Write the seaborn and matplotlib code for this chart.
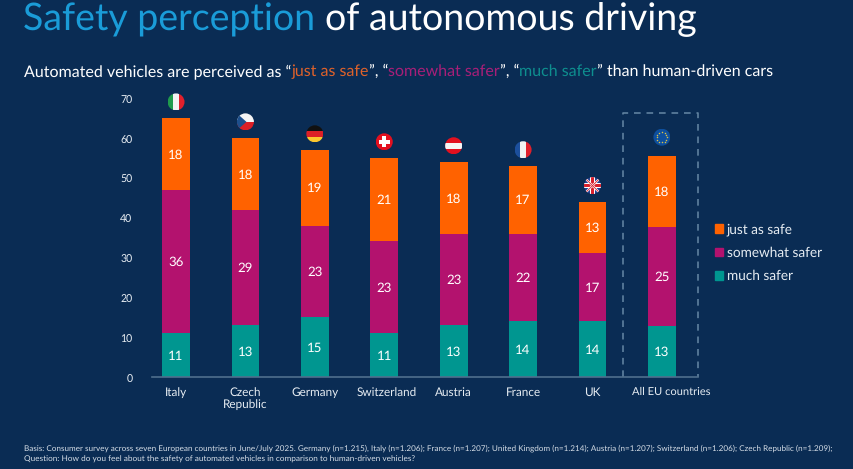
import numpy as np
import pandas as pd
import seaborn as sns
import matplotlib.pyplot as plt
from matplotlib.patches import Circle, Rectangle, Patch
from matplotlib.transforms import ScaledTranslation

# data
countries = ["Italy", "Czech\nRepublic", "Germany", "Switzerland", "Austria", "France", "UK", "All EU countries"]
much_safer = [11, 13, 15, 11, 13, 14, 14, 12.8]
somewhat_safer = [36, 29, 23, 23, 23, 22, 17, 24.9]
just_as_safe = [18, 18, 19, 21, 18, 17, 13, 17.7]
flags = ["it", "cz", "de", "ch", "at", "fr", "uk", "eu"]
y_ticks = [0, 10, 20, 30, 40, 50, 60, 70]

BG = "#0a2c54"
ORANGE = "#ff6200"
MAGENTA = "#b3126e"
TEAL = "#009690"
TXT = "#e6ecf2"
W, H = 854, 469

sns.set_theme(style="white")
plt.rcParams["font.family"] = ["Lato", "DejaVu Sans"]
plt.rcParams["text.hinting"] = "no_hinting"
plt.rcParams["text.hinting_factor"] = 8

df = pd.DataFrame({"country": countries, "much": much_safer,
                   "somewhat": somewhat_safer, "just": just_as_safe})
df["c2"] = df["much"] + df["somewhat"]
df["c3"] = df["c2"] + df["just"]

fig = plt.figure(figsize=(W / 100, H / 100), dpi=100, facecolor=BG)
ax = fig.add_axes([152 / W, 1 - 377 / H, (698 - 152) / W, (377 - 98) / H], facecolor=BG)

# stacked bars, tallest first
sns.barplot(data=df, x="country", y="c3", color=ORANGE, saturation=1, width=0.4, linewidth=0, ax=ax)
sns.barplot(data=df, x="country", y="c2", color=MAGENTA, saturation=1, width=0.4, linewidth=0, ax=ax)
sns.barplot(data=df, x="country", y="much", color=TEAL, saturation=1, width=0.4, linewidth=0, ax=ax)

ax.set_xlim(-0.346, 7.52)
ax.set_ylim(0, 70)
ax.set_yticks(y_ticks)
ax.set_xlabel("")
ax.set_ylabel("")
sns.despine(ax=ax, left=True)
ax.spines["bottom"].set_color("#4f6f8d")
ax.spines["bottom"].set_linewidth(1.2)
ax.tick_params(axis="x", colors=TXT, labelsize=8.5, length=0, pad=7)
ax.tick_params(axis="y", colors=TXT, labelsize=7.6, length=0, pad=14)

# these two labels sit a little right of their bars in the original
for idx, dx in [(3, 2.5), (7, 9)]:
    lab = ax.get_xticklabels()[idx]
    lab.set_transform(lab.get_transform() + ScaledTranslation(dx / 100, 0, fig.dpi_scale_trans))
ax.get_xticklabels()[7].set_fontsize(8.0)

for lab in ax.get_yticklabels():
    lab.set_transform(lab.get_transform() + ScaledTranslation(0, -1.5 / 100, fig.dpi_scale_trans))

# segment labels
for i, row in df.iterrows():
    ax.text(i, row["much"] / 2, f"{row['much']:.0f}", color="white", ha="center", va="center_baseline", fontsize=9.5)
    ax.text(i, row["much"] + row["somewhat"] / 2, f"{row['somewhat']:.0f}", color="white", ha="center", va="center_baseline", fontsize=9.5)
    ax.text(i, row["c2"] + row["just"] / 2, f"{row['just']:.0f}", color="white", ha="center", va="center_baseline", fontsize=9.5)

# dashed box around EU
ax.plot([6.44, 6.44, 7.52, 7.52], [0, 66.2, 66.2, 0], color="#5f819f", lw=1.2,
        ls=(0, (4, 3.5)), clip_on=False)

# overlay in pixels for flags and headings
ov = fig.add_axes([0, 0, 1, 1], facecolor="none")
ov.set_xlim(0, W)
ov.set_ylim(H, 0)
ov.axis("off")


def draw_flag(kind, cx, cy, r=8.5):
    clip = Circle((cx, cy), r, transform=ov.transData)

    def rect(x0, y0, w, h, c):
        p = Rectangle((cx + x0, cy + y0), w, h, fc=c, ec="none")
        ov.add_patch(p)
        p.set_clip_path(clip)

    def line(x, y, c, lw):
        l, = ov.plot(cx + np.array(x), cy + np.array(y), color=c, lw=lw, solid_capstyle="butt")
        l.set_clip_path(clip)

    if kind == "it":
        rect(-r, -r, r * 2 / 3, 2 * r, "#1f9a4c")
        rect(-r / 3, -r, r * 2 / 3, 2 * r, "#f2f2f2")
        rect(r / 3, -r, r * 2 / 3, 2 * r, "#e0202c")
    elif kind == "cz":
        rect(-r, -r, 2 * r, r, "#f5f5f5")
        rect(-r, 0, 2 * r, r, "#dc1f26")
        tri = plt.Polygon([(cx - r, cy - r), (cx + 1, cy), (cx - r, cy + r)], fc="#1d4f8c", ec="none")
        ov.add_patch(tri)
        tri.set_clip_path(clip)
    elif kind == "de":
        rect(-r, -r, 2 * r, 2 * r / 3, "#111111")
        rect(-r, -r / 3, 2 * r, 2 * r / 3, "#dd1f26")
        rect(-r, r / 3, 2 * r, 2 * r / 3, "#fcc72e")
    elif kind == "ch":
        rect(-r, -r, 2 * r, 2 * r, "#e3101f")
        rect(-5.5, -2, 11, 4, "white")
        rect(-2, -5.5, 4, 11, "white")
    elif kind == "at":
        rect(-r, -r, 2 * r, 2 * r, "#e3101f")
        rect(-r, -r / 3, 2 * r, 2 * r / 3, "#f5f5f5")
    elif kind == "fr":
        rect(-r, -r, r * 2 / 3, 2 * r, "#1c4f9c")
        rect(-r / 3, -r, r * 2 / 3, 2 * r, "#f2f2f2")
        rect(r / 3, -r, r * 2 / 3, 2 * r, "#e0202c")
    elif kind == "uk":
        rect(-r, -r, 2 * r, 2 * r, "#25408f")
        line([-r, r], [-r, r], "white", 1.6)
        line([-r, r], [r, -r], "white", 1.6)
        line([-r, r], [-r, r], "#d9202c", 0.6)
        line([-r, r], [r, -r], "#d9202c", 0.6)
        rect(-r, -2.4, 2 * r, 4.8, "white")
        rect(-2.4, -r, 4.8, 2 * r, "white")
        rect(-r, -1.4, 2 * r, 2.8, "#d9202c")
        rect(-1.4, -r, 2.8, 2 * r, "#d9202c")
    else:
        rect(-r, -r, 2 * r, 2 * r, "#0d4f9e")
        ang = np.arange(12) * np.pi / 6
        ov.scatter(cx + 5.3 * np.cos(ang), cy + 5.3 * np.sin(ang), s=1.2, color="#d8c04a", linewidths=0)


fig.canvas.draw()
for i, kind in enumerate(flags):
    px = ax.transData.transform((i, df["c3"][i]))
    gap = 19 if kind == "eu" else 16
    draw_flag(kind, px[0], H - px[1] - gap)


def multi_text(x, y, parts, size):
    # coloured words one after the other on one line
    rend = fig.canvas.get_renderer()
    for s, c in parts:
        t = ov.text(x, y, s, color=c, fontsize=size, va="baseline", ha="left")
        x += t.get_window_extent(rend).width


multi_text(23, 30, [("Safety perception ", "#1a9cd8"), ("of autonomous driving", "white")], 27)
multi_text(24, 76, [("Automated vehicles are perceived as \u201c", "white"), ("just as safe", "#e0622a"),
                    ("\u201d, \u201c", "white"), ("somewhat safer", "#a81f78"), ("\u201d, \u201c", "white"),
                    ("much safer", "#0e8f8f"), ("\u201d than human-driven cars", "white")], 11.55)

ov.text(24, 451, "Basis: Consumer survey across seven European countries in June/July 2025. Germany (n=1.215), Italy (n=1.206); "
        "France (n=1.207); United Kingdom (n=1.214); Austria (n=1.207); Switzerland (n=1.206); Czech Republic (n=1.209);",
        color="#d5dde6", fontsize=5.9, va="baseline")
ov.text(24, 462, "Question: How do you feel about the safety of automated vehicles in comparison to human-driven vehicles?",
        color="#d5dde6", fontsize=5.95, va="baseline")

handles = [Patch(color=ORANGE, label="just as safe"), Patch(color=MAGENTA, label="somewhat safer"),
           Patch(color=TEAL, label="much safer")]
leg = fig.legend(handles=handles, loc="upper left", bbox_to_anchor=(715 / W, 1 - 223 / H), frameon=False,
                 fontsize=9.8, labelcolor=TXT, handlelength=0.58, handleheight=0.58, handletextpad=0.3,
                 labelspacing=0.78, borderpad=0, borderaxespad=0)

fig.savefig("out.png", dpi=100, facecolor=BG)
